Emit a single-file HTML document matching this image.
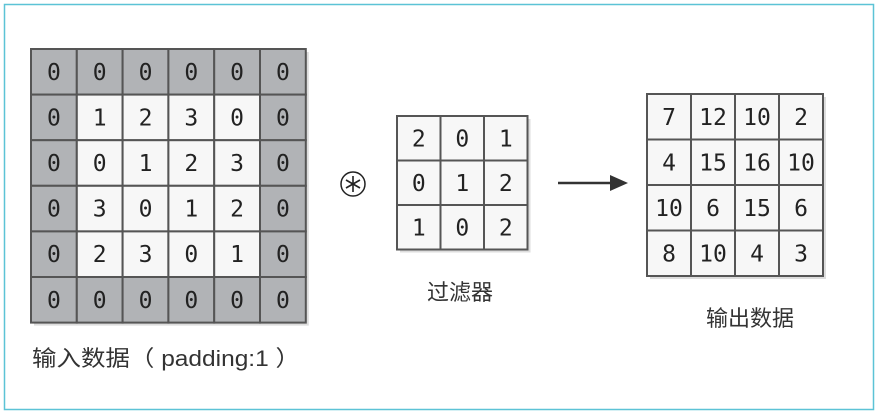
<!DOCTYPE html><html><head><meta charset="utf-8"><style>body{margin:0;background:#fff}svg{display:block}</style></head><body>
<svg width="878" height="414" xmlns="http://www.w3.org/2000/svg" font-family="DejaVu Sans Mono, Liberation Mono, monospace">
<rect x="4.5" y="4.5" width="869" height="405" fill="#fff" stroke="#5cc3d6" stroke-width="1.5"/>
<g id="in"></g>
<g id="f"></g>
<g id="o"></g>
<circle cx="353" cy="184" r="12" fill="none" stroke="#222" stroke-width="1.5"/>
<g stroke="#222" stroke-width="1.6">
<line x1="353" y1="176" x2="353" y2="192"/><line x1="346" y1="180" x2="360" y2="188"/><line x1="346" y1="188" x2="360" y2="180"/>
</g>
<line x1="558" y1="183" x2="612" y2="183" stroke="#333" stroke-width="2.5"/>
<polygon points="610,175 628,183 610,191" fill="#333"/>
<text x="460" y="300" font-family="Liberation Sans, Noto Sans CJK SC, sans-serif" font-size="22" text-anchor="middle" fill="#333">过滤器</text>
<text x="750" y="326" font-family="Liberation Sans, Noto Sans CJK SC, sans-serif" font-size="22" text-anchor="middle" fill="#333">输出数据</text>
<text x="32" y="366" font-family="Liberation Sans, Noto Sans CJK SC, sans-serif" font-size="22" fill="#333" textLength="268" lengthAdjust="spacingAndGlyphs">输入数据（ padding:1 ）</text>
</svg>
<script>
function grid(id,x0,y0,cw,ch,data,shade){var g=document.getElementById(id),s='';var R=data.length,C=data[0].length;
s+='<rect x="'+(x0+3)+'" y="'+(y0+3)+'" width="'+cw*C+'" height="'+ch*R+'" fill="#ddd"/>';
for(var r=0;r<R;r++)for(var c=0;c<C;c++){var gray=shade&&(r==0||c==0||r==R-1||c==C-1);
s+='<rect x="'+(x0+c*cw)+'" y="'+(y0+r*ch)+'" width="'+cw+'" height="'+ch+'" fill="'+(gray?'#b1b3b6':'#f7f7f7')+'" stroke="#555" stroke-width="2"/>';
s+='<text x="'+(x0+c*cw+cw/2)+'" y="'+(y0+r*ch+ch/2+8)+'" font-size="23" text-anchor="middle" fill="#222">'+data[r][c]+'</text>';}
g.innerHTML=s;}
grid('in',31,49,45.8,45.6,[[0,0,0,0,0,0],[0,1,2,3,0,0],[0,0,1,2,3,0],[0,3,0,1,2,0],[0,2,3,0,1,0],[0,0,0,0,0,0]],true);
grid('f',397,116,43.5,44.5,[[2,0,1],[0,1,2],[1,0,2]],false);
grid('o',647,94,44,45.5,[[7,12,10,2],[4,15,16,10],[10,6,15,6],[8,10,4,3]],false);
</script>
</body></html>
